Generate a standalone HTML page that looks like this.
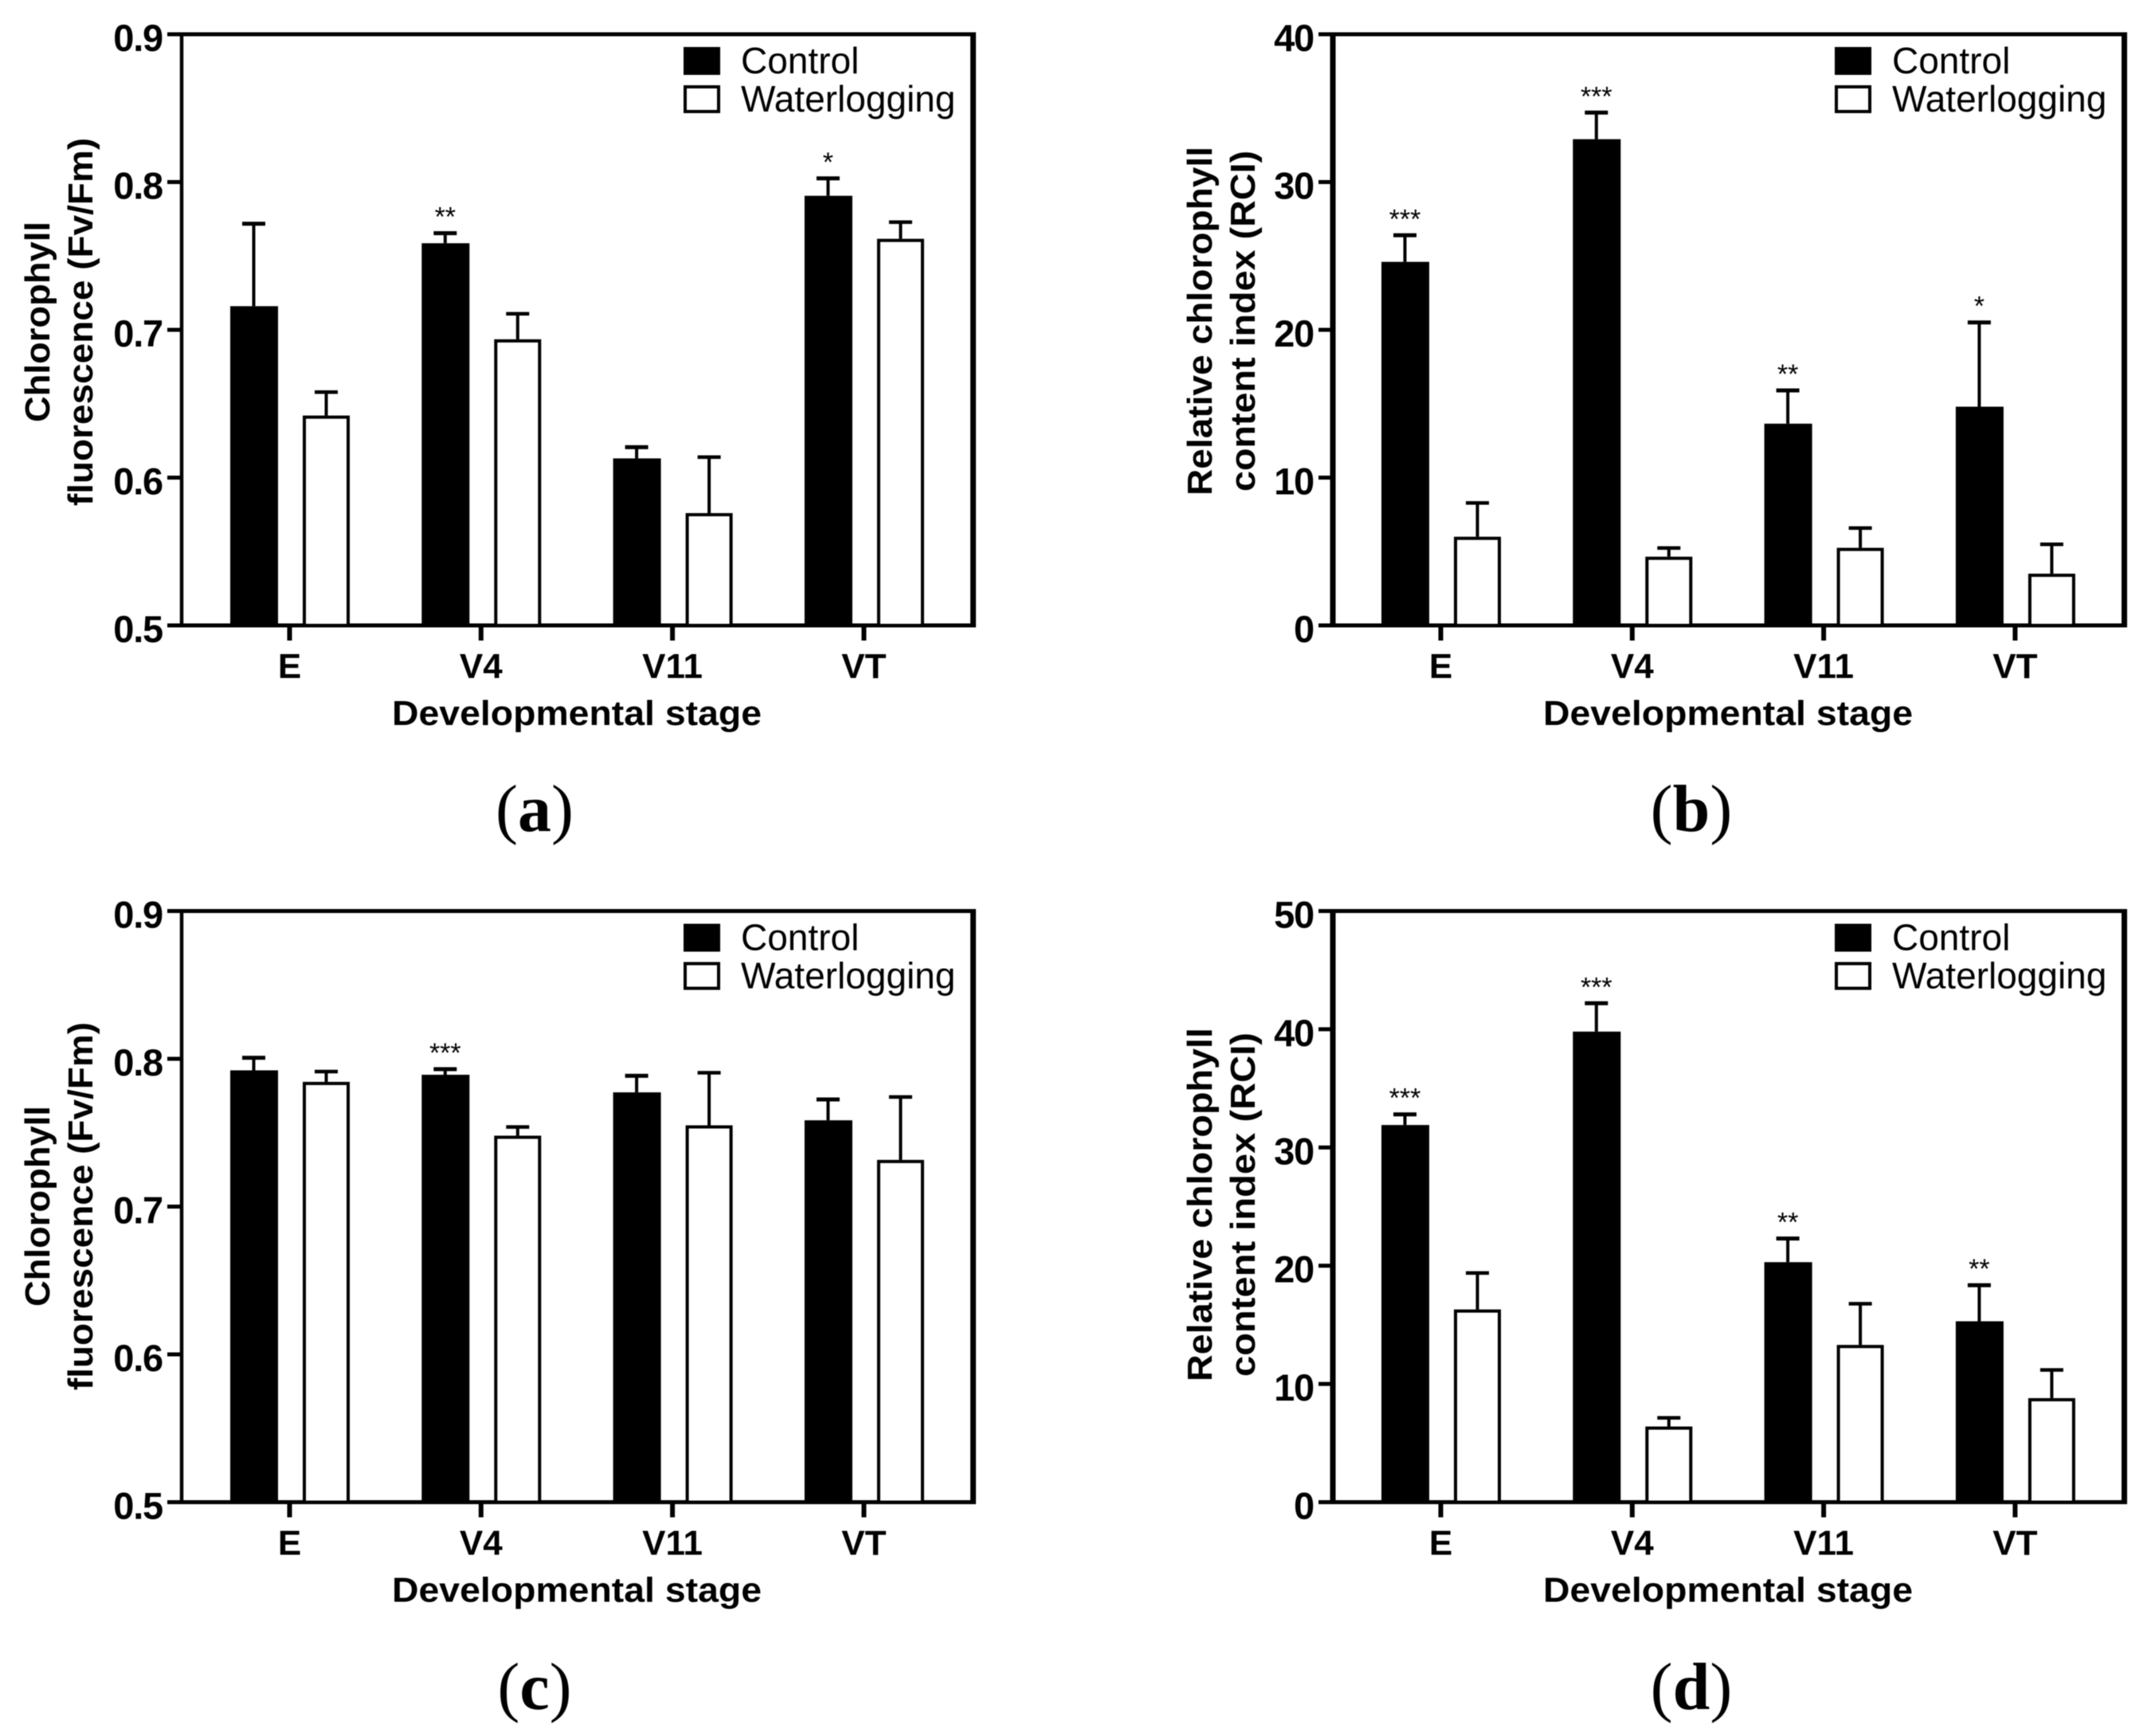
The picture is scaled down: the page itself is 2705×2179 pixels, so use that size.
<!DOCTYPE html>
<html lang="en">
<head>
<meta charset="utf-8">
<title>Chlorophyll fluorescence and relative chlorophyll content</title>
<style>
html,body{margin:0;padding:0;background:#fff;}
svg{display:block;filter:blur(0.6px);}
text{font-family:"Liberation Sans",sans-serif;fill:#000;}
.caption{font-family:"Liberation Serif",serif;}
</style>
</head>
<body>
<svg id="figure" xmlns="http://www.w3.org/2000/svg" width="2705" height="2179" viewBox="0 0 2705 2179"></svg>
<script>
const categories = ["E", "V4", "V11", "VT"];
const legendLabels = ["Control", "Waterlogging"];

const fvTicks = ["0.5", "0.6", "0.7", "0.8", "0.9"];
const rciTicksB = ["0", "10", "20", "30", "40"];
const rciTicksD = ["0", "10", "20", "30", "40", "50"];

const aControl = [0.716, 0.7586, 0.613, 0.7907];
const aControlErr = [0.7718, 0.7654, 0.6206, 0.8025];
const aWater = [0.642, 0.6936, 0.576, 0.7616];
const aWaterErr = [0.658, 0.711, 0.614, 0.773];
const aStars = ["", "**", "", "*"];

const bControl = [24.6, 32.9, 13.65, 14.8];
const bControlErr = [26.4, 34.7, 15.9, 20.5];
const bWater = [6.0, 4.65, 5.25, 3.5];
const bWaterErr = [8.3, 5.25, 6.6, 5.5];
const bStars = ["***", "***", "**", "*"];

const cControl = [0.7922, 0.7892, 0.7773, 0.7584];
const cControlErr = [0.8007, 0.793, 0.7885, 0.7725];
const cWater = [0.7844, 0.748, 0.755, 0.7316];
const cWaterErr = [0.7915, 0.754, 0.7907, 0.7743];
const cStars = ["", "***", "", ""];

const dControl = [31.9, 39.8, 20.3, 15.3];
const dControlErr = [32.8, 42.2, 22.3, 18.35];
const dWater = [16.3, 6.4, 13.3, 8.8];
const dWaterErr = [19.4, 7.15, 16.8, 11.2];
const dStars = ["***", "***", "**", "**"];

const svg = document.getElementById('figure');
const NS = 'http://www.w3.org/2000/svg';

function mk(tag, attrs, parent, txt) {
  const n = document.createElementNS(NS, tag);
  for (const k in attrs) n.setAttribute(k, attrs[k]);
  if (txt !== undefined) n.textContent = txt;
  parent.appendChild(n);
  return n;
}

function drawPanel(p) {
  const g = mk('g', {}, svg);
  
  

  const L = p.ox + 228, R = p.ox + 1221, T = p.oy + 43, B = p.oy + 785;
  const yScale = v => B - (v - p.min) / (p.max - p.min) * (B - T);
  const xScale = i => p.ox + 363.5 + 240.3 * i;
  const barW = 59;
  const ctlX = i => xScale(i) - 74.5;
  const watX = i => xScale(i) + 16.5;

  // axis frame
  const top = mk('rect', {x: p.ox + 210, y: T - 2.5, width: R - p.ox - 210 + 4, height: 5, fill: '#000'}, g);
  
  
  const bot = mk('rect', {x: p.ox + 210, y: B - 2.5, width: R - p.ox - 210 + 4, height: 5, fill: '#000'}, g);
  
  
  const left = mk('rect', {x: L - p.lw / 2, y: T, width: p.lw, height: B - T, fill: '#000'}, g);
  
  
  const right = mk('rect', {x: R - 3, y: T - 2.5, width: 7, height: B - T + 5, fill: '#000'}, g);
  
  

  // y ticks and labels
  p.ticks.forEach((t) => {
    const v = parseFloat(t);
    const tk = mk('rect', {x: p.ox + 210, y: yScale(v) - 2.5, width: L - p.ox - 210, height: 5, fill: '#000'}, g);
    
    
    const lb = mk('text', {x: p.ox + 204, y: yScale(v) + 21, 'text-anchor': 'end', 'font-size': 47, 'font-weight': 700, 'letter-spacing': '-1.2'}, g, t);
    
    
  });

  // categories
  categories.forEach((c, i) => {
    const tk = mk('rect', {x: xScale(i) - 3, y: B, width: 6, height: 19, fill: '#000'}, g);
    
    
    const lb = mk('text', {x: xScale(i), y: p.oy + 851, 'text-anchor': 'middle', 'font-size': 44, 'font-weight': 700}, g, c);
    
    

    // control error bar
    const cs = mk('rect', {x: ctlX(i) + barW / 2 - 2, y: yScale(p.cErr[i]), width: 4, height: yScale(p.c[i]) - yScale(p.cErr[i]), fill: '#000'}, g);
    
    
    const cc = mk('rect', {x: ctlX(i) + barW / 2 - 14.5, y: yScale(p.cErr[i]) - 2.5, width: 29, height: 5, fill: '#000'}, g);
    
    

    // control bar
    const cb = mk('rect', {x: ctlX(i), y: yScale(p.c[i]), width: barW + 1, height: B - yScale(p.c[i]), fill: '#000'}, g);
    
    

    // waterlogging error bar
    const ws = mk('rect', {x: watX(i) + barW / 2 - 2, y: yScale(p.wErr[i]), width: 4, height: yScale(p.w[i]) - yScale(p.wErr[i]), fill: '#000'}, g);
    
    
    const wc = mk('rect', {x: watX(i) + barW / 2 - 14.5, y: yScale(p.wErr[i]) - 2, width: 29, height: 4.5, fill: '#000'}, g);
    
    

    // waterlogging bar
    const wb = mk('rect', {x: watX(i) + 2, y: yScale(p.w[i]) + 2, width: barW - 4, height: B - yScale(p.w[i]) - 2, fill: '#fff', stroke: '#000', 'stroke-width': 4}, g);
    
    

    // significance stars
    if (p.stars[i]) {
      const st = mk('text', {x: ctlX(i) + barW / 2, y: yScale(p.cErr[i]) - 9, 'text-anchor': 'middle', 'font-size': 34}, g, p.stars[i]);
      
      
    }
  });

  // axis titles
  const xt = mk('text', {x: p.ox + 724, y: p.oy + 910, 'text-anchor': 'middle', 'font-size': 44, 'font-weight': 700, textLength: 464, lengthAdjust: 'spacingAndGlyphs'}, g, 'Developmental stage');
  
  

  const y1 = mk('text', {transform: 'translate(' + (p.ox + p.t1x) + ',' + p.ty + ') rotate(-90)', 'text-anchor': 'middle', 'font-size': 44, 'font-weight': 700, textLength: p.t1w, lengthAdjust: 'spacingAndGlyphs'}, g, p.t1);
  
  
  const y2 = mk('text', {transform: 'translate(' + (p.ox + p.t2x) + ',' + p.ty + ') rotate(-90)', 'text-anchor': 'middle', 'font-size': 44, 'font-weight': 700, textLength: p.t2w, lengthAdjust: 'spacingAndGlyphs'}, g, p.t2);
  
  

  // legend
  const s1 = mk('rect', {x: p.ox + 858, y: p.oy + 59, width: 46, height: 35, fill: '#000'}, g);
  
  
  const t1 = mk('text', {x: p.ox + 930, y: p.oy + 92, 'font-size': 46}, g, legendLabels[0]);
  
  
  const s2 = mk('rect', {x: p.ox + 860, y: p.oy + 109, width: 42, height: 31, fill: '#fff', stroke: '#000', 'stroke-width': 4}, g);
  
  
  const t2 = mk('text', {x: p.ox + 930, y: p.oy + 140, 'font-size': 46}, g, legendLabels[1]);
  
  

  // panel caption
  const cap = mk('text', {x: p.capX, y: p.capY, 'text-anchor': 'middle', 'font-size': 84, class: 'caption'}, g);
  
  
  mk('tspan', {}, cap, '(');
  mk('tspan', {'font-weight': 700}, cap, p.id);
  mk('tspan', {}, cap, ')');
}

drawPanel({id: 'a', ox: 0, oy: 0, min: 0.5, max: 0.9, ticks: fvTicks, lw: 4.5,
  c: aControl, cErr: aControlErr, w: aWater, wErr: aWaterErr, stars: aStars,
  t1: 'Chlorophyll', t2: 'fluorescence (Fv/Fm)', t1x: 62, t2x: 116, t1w: 252, t2w: 462, ty: 404,
  capX: 671, capY: 1043});
drawPanel({id: 'b', ox: 1445, oy: 0, min: 0, max: 40, ticks: rciTicksB, lw: 7,
  c: bControl, cErr: bControlErr, w: bWater, wErr: bWaterErr, stars: bStars,
  t1: 'Relative chlorophyll', t2: 'content index (RCI)', t1x: 76, t2x: 130, t1w: 438, t2w: 428, ty: 403,
  capX: 2123, capY: 1043});
drawPanel({id: 'c', ox: 0, oy: 1100.5, min: 0.5, max: 0.9, ticks: fvTicks, lw: 4.5,
  c: cControl, cErr: cControlErr, w: cWater, wErr: cWaterErr, stars: cStars,
  t1: 'Chlorophyll', t2: 'fluorescence (Fv/Fm)', t1x: 62, t2x: 116, t1w: 252, t2w: 462, ty: 1514,
  capX: 671, capY: 2145});
drawPanel({id: 'd', ox: 1445, oy: 1100.5, min: 0, max: 50, ticks: rciTicksD, lw: 7,
  c: dControl, cErr: dControlErr, w: dWater, wErr: dWaterErr, stars: dStars,
  t1: 'Relative chlorophyll', t2: 'content index (RCI)', t1x: 76, t2x: 130, t1w: 444, t2w: 432, ty: 1512,
  capX: 2123, capY: 2145});
</script>
</body>
</html>
